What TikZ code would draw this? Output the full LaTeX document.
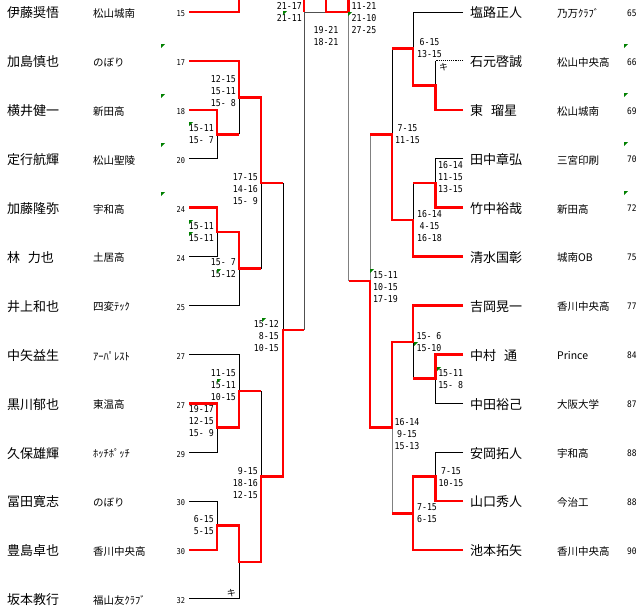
\documentclass[tikz,border=0pt]{standalone}
\usepackage{fontspec}
\newfontfamily\jp{Noto Sans CJK JP}
\newfontfamily\scf[FakeStretch=0.87]{DejaVu Sans Mono}
\definecolor{exg}{RGB}{0,128,0}
\definecolor{lgray}{RGB}{128,128,128}
\definecolor{dgray}{RGB}{80,80,80}
\tikzset{
  rl/.style={draw=red, line width=2.6pt},
  bl/.style={draw=black, line width=0.9pt},
  gl/.style={draw=lgray, line width=0.9pt},
  dl/.style={draw=dgray, line width=0.9pt},
  nm/.style={anchor=west, inner sep=0pt, font=\jp\fontsize{13}{13}\selectfont},
  cl/.style={anchor=west, inner sep=0pt, font=\jp\fontsize{10.5}{10.5}\selectfont},
  lno/.style={anchor=west, inner sep=0pt, font=\scf\fontsize{8}{8}\selectfont},
  rno/.style={anchor=west, inner sep=0pt, font=\scf\fontsize{9}{9}\selectfont},
  sc/.style={inner sep=0pt, font=\scf\fontsize{9.5}{9.5}\selectfont},
  ki/.style={inner sep=0pt, font=\jp\fontsize{9}{9}\selectfont},
}
\newcommand\bkR[4]{\foreach \s [count=\k from 0] in {#4} {\node[sc,anchor=east] (#1-\k) at (#2,{#3+12*\k}) {\s};}}
\newcommand\bkC[4]{\foreach \s [count=\k from 0] in {#4} {\node[sc,anchor=center] (#1-\k) at (#2,{#3+12*\k}) {\s};}}
\newcommand\gmk[2]{\fill[exg] (#1,#2) -- ++(4,0) -- ++(-4,4) -- cycle;}
\begin{document}
\begin{tikzpicture}[x=1pt,y=-1pt]
\useasboundingbox[fill=white] (0,0) rectangle (640,611);

% ---------- left players ----------
\foreach \a/\b/\c [count=\i from 0] in {
  伊藤奨悟/松山城南/15, 加島慎也/のぼり/17, 横井健一/新田高/18, 定行航輝/松山聖陵/20,
  加藤隆弥/宇和高/24, 林\hspace{0.6em}力也/土居高/24, 井上和也/四変ﾃｯｸ/25, 中矢益生/ｱｰﾊﾟﾚｽﾄ/27,
  黒川郁也/東温高/27, 久保雄輝/ﾎｯﾁﾎﾟｯﾁ/29, 冨田寛志/のぼり/30, 豊島卓也/香川中央高/30,
  坂本教行/福山友ｸﾗﾌﾞ/32} {
  \node[nm] (ln\i) at (7,{13+48.9*\i}) {\a};
  \node[cl] (lc\i) at (93,{13.5+48.9*\i}) {\b};
  \node[lno] (lk\i) at (176.5,{14+48.9*\i}) {\c};
}
% ---------- right players ----------
\foreach \a/\b/\c [count=\i from 0] in {
  塩路正人/乃万ｸﾗﾌﾞ/65, 石元啓誠/松山中央高/66, 東\hspace{0.6em}瑠星/松山城南/69, 田中章弘/三宮印刷/70,
  竹中裕哉/新田高/72, 清水国彰/城南OB/75, 吉岡晃一/香川中央高/77, 中村\hspace{0.6em}通/Prince/84,
  中田裕己/大阪大学/87, 安岡拓人/宇和高/88, 山口秀人/今治工/88, 池本拓矢/香川中央高/90} {
  \node[nm] (rn\i) at (470,{13+48.9*\i}) {\a};
  \node[cl] (rc\i) at (557,{13.5+48.9*\i}) {\b};
  \node[rno] (rk\i) at (627,{13+48.9*\i}) {\c};
}

% ---------- left thin lines ----------
\draw[bl] (189,158.7) -| (217,134.25);
\draw[bl] (239,134.25) -- (239,97.6);
\draw[bl] (189,256.5) -| (217,232.05);
\draw[bl] (189,305.4) -| (239,268.7);
\draw[bl] (261,268.7) -- (261,183.15);
\draw[bl] (283,183.15) -- (283,329.8);
\draw[bl] (189,354.3) -| (239,390.98);
\draw[bl] (189,452.1) -| (217,427.65);
\draw[bl] (261,390.98) -- (261,476.5);
\draw[bl] (189,501) -| (217,525.45);
\draw[bl] (189,598.8) -| (239,562.1);
\draw[dl] (304,329.8) -- (304,12) -- (326,12);

% ---------- right thin lines ----------
\draw[bl] (463,12) -| (413,48.7);
\draw[bl,densely dotted] (463,60.9) -- (435.5,60.9);
\draw[bl] (435.5,60.9) -- (435.5,85.35);
\draw[bl] (392,48.7) -- (392,134.25);
\draw[bl] (463,158.7) -| (435.5,183.15);
\draw[bl] (413,183.15) -- (413,219.8);
\draw[gl] (370,134.25) -- (370,280.95);
\draw[gl] (348.5,280.95) -- (348.5,12);
\draw[bl] (413,378.75) -- (413,342.1);
\draw[bl] (463,403.2) -| (435.5,378.75);
\draw[bl] (463,452.1) -| (435.5,476.55);
\draw[gl] (392,513.2) -- (392,427.65);

% ---------- left winner lines ----------
\draw[rl] (189,12) -| (239,0);
\draw[rl] (189,60.9) -| (239,97.6) -| (261,183.15) -- (283,183.15);
\draw[rl] (189,109.8) -| (217,134.25) -- (239,134.25);
\draw[rl] (189,207.6) -| (217,232.05) -| (239,268.7) -- (261,268.7);
\draw[rl] (189,403.2) -| (217,427.65) -| (239,390.98) -- (261,390.98);
\draw[rl] (189,549.9) -| (217,525.45) -| (239,562.1) -| (261,476.5) -| (283,329.8) -- (304,329.8);
\draw[rl] (304,0) -- (304,12);
\draw[rl] (326,0) |- (348.5,12) -- (348.5,0);

% ---------- right winner lines ----------
\draw[rl] (463,109.8) -| (435.5,85.35) -| (413,48.7) -- (392,48.7);
\draw[rl] (463,207.6) -| (435.5,183.15) -- (413,183.15);
\draw[rl] (463,256.5) -| (413,219.8) -| (392,134.25) -- (370,134.25);
\draw[rl] (463,305.4) -| (413,342.1) -| (392,427.65) -| (370,280.95) -- (348.5,280.95);
\draw[rl] (463,354.3) -| (435.5,378.75) -- (413,378.75);
\draw[rl] (463,501) -| (435.5,476.55) -| (413,513.2);
\draw[rl] (463,549.9) -| (413,513.2) -- (392,513.2);

% ---------- scores ----------
\bkR{s1}{302}{6}{21-17,21-11}
\bkR{s2}{236}{79}{12-15,15-11,15- 8}
\bkR{s3}{214}{128.5}{15-11,15- 7}
\bkR{s4}{258}{177}{17-15,14-16,15- 9}
\bkR{s5}{214}{226}{15-11,15-11}
\bkR{s6}{236}{262.5}{15- 7,15-12}
\bkR{s7}{279}{324}{15-12,8-15,10-15}
\bkR{s8}{236}{373}{11-15,15-11,10-15}
\bkR{s9}{214}{409}{19-17,12-15,15- 9}
\bkR{s10}{258}{471}{9-15,18-16,12-15}
\bkR{s11}{214}{519}{6-15,5-15}

\bkC{c1}{326}{30.5}{19-21,18-21}
\bkC{c2}{364}{6}{11-21,21-10,27-25}
\bkC{c3}{429.5}{42}{6-15,13-15}
\bkC{c4}{407.5}{128}{7-15,11-15}
\bkC{c5}{450.5}{165}{16-14,11-15,13-15}
\bkC{c6}{429.5}{214}{16-14,4-15,16-18}
\bkC{c7}{385.5}{275}{15-11,10-15,17-19}
\bkC{c8}{429}{336}{15- 6,15-10}
\bkC{c9}{450.7}{373}{15-11,15- 8}
\bkC{c10}{407}{422}{16-14,9-15,15-13}
\bkC{c11}{451}{471}{7-15,10-15}
\bkC{c12}{427}{507}{7-15,6-15}

% ---------- forfeit marks ----------
\node[ki] (k1) at (231.3,593) {キ};
\node[ki] (k2) at (443.5,67.5) {キ};

% ---------- green indicators ----------
\gmk{161}{44}\gmk{161}{94}\gmk{161}{143}\gmk{161}{192}
\gmk{624}{44}\gmk{624}{93}\gmk{624}{142}\gmk{624}{191}
\gmk{189}{122}\gmk{189}{220}\gmk{189}{232}\gmk{217}{269}
\gmk{262}{318}\gmk{217}{379}\gmk{283}{11}\gmk{348}{12}
\gmk{370}{269}\gmk{414}{342}\gmk{437}{367}
\end{tikzpicture}
\end{document}
